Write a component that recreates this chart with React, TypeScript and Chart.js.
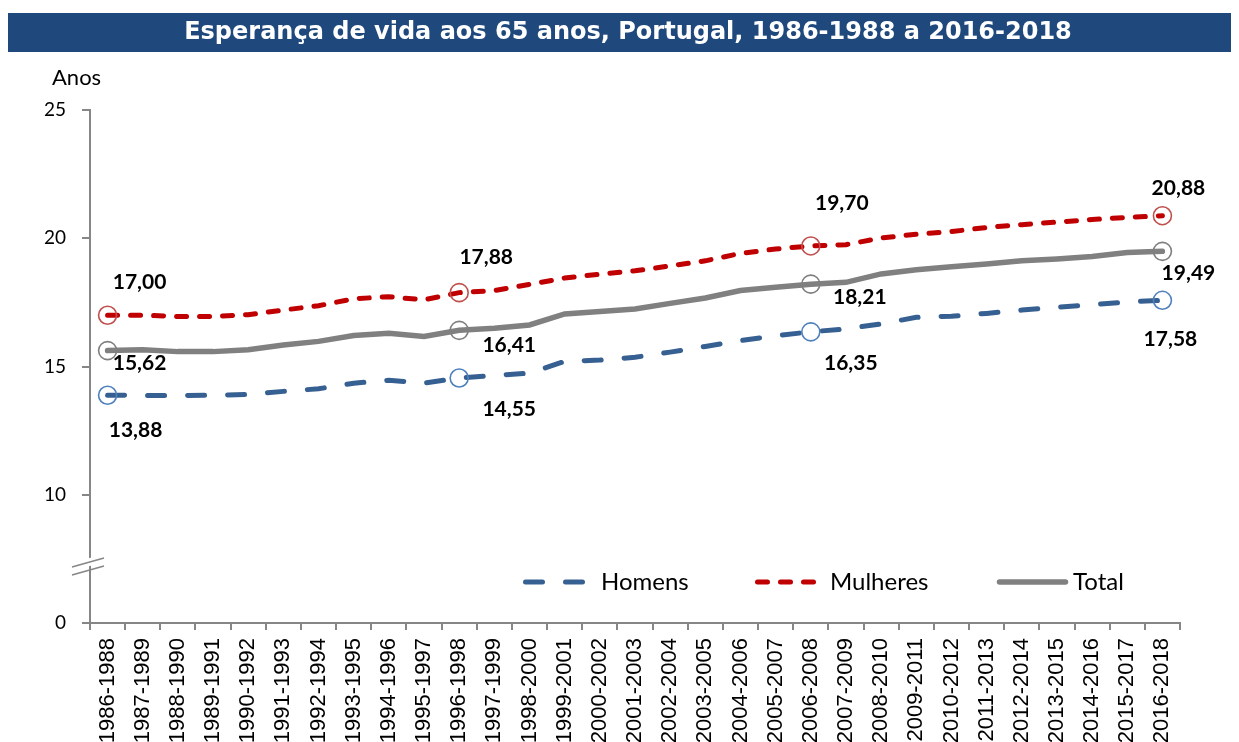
import { useEffect, useRef } from "react";
import { Chart, registerables } from "chart.js";

Chart.register(...registerables);

const titleText = "Esperança de vida aos 65 anos, Portugal, 1986-1988 a 2016-2018";
const yAxisTitle = "Anos";

const categories = [
  "1986-1988", "1987-1989", "1988-1990", "1989-1991", "1990-1992", "1991-1993",
  "1992-1994", "1993-1995", "1994-1996", "1995-1997", "1996-1998", "1997-1999",
  "1998-2000", "1999-2001", "2000-2002", "2001-2003", "2002-2004", "2003-2005",
  "2004-2006", "2005-2007", "2006-2008", "2007-2009", "2008-2010", "2009-2011",
  "2010-2012", "2011-2013", "2012-2014", "2013-2015", "2014-2016", "2015-2017",
  "2016-2018",
];

const homens = [
  13.88, 13.87, 13.87, 13.88, 13.91, 14.03, 14.13, 14.35, 14.46, 14.35,
  14.55, 14.65, 14.74, 15.2, 15.25, 15.36, 15.56, 15.78, 16.01, 16.2,
  16.35, 16.47, 16.66, 16.92, 16.96, 17.07, 17.2, 17.31, 17.41, 17.52,
  17.58,
];

const mulheres = [
  17.0, 17.0, 16.95, 16.95, 17.02, 17.2, 17.37, 17.64, 17.72, 17.6,
  17.88, 17.96, 18.2, 18.45, 18.6, 18.73, 18.92, 19.12, 19.41, 19.58,
  19.7, 19.75, 20.01, 20.16, 20.26, 20.42, 20.53, 20.63, 20.73, 20.81,
  20.88,
];

const total = [
  15.62, 15.65, 15.58, 15.58, 15.65, 15.84, 15.98, 16.21, 16.3, 16.17,
  16.41, 16.49, 16.62, 17.05, 17.14, 17.24, 17.46, 17.67, 17.96, 18.09,
  18.21, 18.28, 18.61, 18.77, 18.89, 19.0, 19.12, 19.19, 19.29, 19.44,
  19.49,
];

// indices of the marked (circled, labelled) points
const markedIndices = [0, 10, 20, 30];

// y axis: the drawn scale runs from 5 to 25; the bottom tick stands for 0 (axis break)
const yMin = 5;
const yMax = 25;
const yStep = 5;
const yBreakValue = 7.22;

// label offsets (px) relative to each marked point
const homensLabelOffsets = [[28, 35], [50, 31], [40, 31], [8, 39]];
const mulheresLabelOffsets = [[32, -33], [27, -35], [31, -43], [16, -27]];
const totalLabelOffsets = [[32, 13], [50, 15], [49, 13], [26, 22]];

const fmt = (v: number) => v.toFixed(2).replace(".", ",");

export default function App() {
  const ref = useRef<HTMLCanvasElement | null>(null);

  useEffect(() => {
    const canvas = ref.current;
    if (!canvas) return;

    const radii = (n: number) => categories.map((_, i) => (markedIndices.includes(i) ? n : 0));

    const overlayPlugin = {
      id: "overlay",
      beforeDraw(chart: any) {
        const ctx = chart.ctx;
        ctx.save();
        ctx.fillStyle = "#ffffff";
        ctx.fillRect(0, 0, chart.width, chart.height);
        // title bar
        ctx.fillStyle = "#1F497D";
        ctx.fillRect(8, 13, 1223, 39);
        ctx.fillStyle = "#ffffff";
        ctx.font = "bold 24px 'DejaVu Sans'";
        ctx.textAlign = "center";
        ctx.textBaseline = "middle";
        ctx.fillText(titleText, 628, 33);
        // y axis title
        ctx.fillStyle = "#000000";
        ctx.font = "22px Lato";
        ctx.textAlign = "left";
        ctx.fillText(yAxisTitle, 52, 78);
        ctx.restore();
      },
      afterDraw(chart: any) {
        const ctx = chart.ctx;
        const xs = chart.scales.x;
        const ys = chart.scales.y;
        ctx.save();
        // axis break marks
        const yb = ys.getPixelForValue(yBreakValue);
        const ax = chart.chartArea.left;
        ctx.fillStyle = "#ffffff";
        ctx.beginPath();
        ctx.moveTo(ax - 18, yb + 5);
        ctx.lineTo(ax + 14, yb - 4);
        ctx.lineTo(ax + 14, yb - 12);
        ctx.lineTo(ax - 18, yb - 3);
        ctx.closePath();
        ctx.fill();
        ctx.strokeStyle = "#868686";
        ctx.lineWidth = 1.5;
        ctx.beginPath();
        ctx.moveTo(ax - 18, yb + 9);
        ctx.lineTo(ax + 14, yb);
        ctx.moveTo(ax - 18, yb + 1);
        ctx.lineTo(ax + 14, yb - 8);
        ctx.stroke();

        // data labels
        ctx.fillStyle = "#000000";
        ctx.font = "bold 21px Lato";
        ctx.textAlign = "center";
        ctx.textBaseline = "middle";
        chart.data.datasets.forEach((ds: any) => {
          markedIndices.forEach((idx, k) => {
            const v = ds.data[idx];
            const px = xs.getPixelForValue(idx);
            const py = ys.getPixelForValue(v);
            const [dx, dy] = ds.labelOffsets[k];
            ctx.fillText(fmt(v), px + dx, py + dy);
          });
        });

        // legend
        const legendY = 582;
        const items = [
          { ds: chart.data.datasets[0], x0: 523, x1: 586, tx: 601 },
          { ds: chart.data.datasets[1], x0: 755, x1: 817, tx: 830 },
          { ds: chart.data.datasets[2], x0: 997, x1: 1068, tx: 1073 },
        ];
        items.forEach(({ ds, x0, x1, tx }) => {
          ctx.strokeStyle = ds.borderColor;
          ctx.lineWidth = ds.borderWidth;
          ctx.lineCap = "round";
          ctx.setLineDash(ds.borderDash || []);
          ctx.beginPath();
          ctx.moveTo(x0 + 2.5, legendY);
          ctx.lineTo(x1 - 2.5, legendY);
          ctx.stroke();
          ctx.setLineDash([]);
          ctx.fillStyle = "#000000";
          ctx.font = "24px Lato";
          ctx.textAlign = "left";
          ctx.fillText(ds.label, tx, legendY);
        });
        ctx.restore();
      },
    };

    const chart = new Chart(canvas, {
      type: "line",
      data: {
        labels: categories,
        datasets: [
          {
            label: "Homens",
            data: homens,
            borderColor: "#376092",
            borderWidth: 5,
            borderDash: [17, 23],
            borderCapStyle: "round",
            pointRadius: radii(9),
            pointBorderColor: "#4F81BD",
            pointBackgroundColor: "rgba(255,255,255,0)",
            pointBorderWidth: 1.6,
            tension: 0,
            labelOffsets: homensLabelOffsets,
          } as any,
          {
            label: "Mulheres",
            data: mulheres,
            borderColor: "#C00000",
            borderWidth: 5,
            borderDash: [10, 13],
            borderCapStyle: "round",
            pointRadius: radii(9),
            pointBorderColor: "#C0504D",
            pointBackgroundColor: "rgba(255,255,255,0)",
            pointBorderWidth: 1.6,
            tension: 0,
            labelOffsets: mulheresLabelOffsets,
          } as any,
          {
            label: "Total",
            data: total,
            borderColor: "#808080",
            borderWidth: 5.5,
            borderCapStyle: "round",
            pointRadius: radii(9),
            pointBorderColor: "#7F7F7F",
            pointBackgroundColor: "rgba(255,255,255,0)",
            pointBorderWidth: 1.6,
            tension: 0,
            labelOffsets: totalLabelOffsets,
          } as any,
        ],
      },
      options: {
        responsive: false,
        animation: false,
        layout: { padding: { top: 110, right: 59, bottom: 0, left: 0 } },
        plugins: {
          legend: { display: false },
          title: { display: false },
          tooltip: { enabled: false },
        },
        scales: {
          x: {
            type: "category",
            offset: true,
            afterFit: (scale: any) => {
              scale.height = 119;
            },
            border: { display: true, color: "#868686", width: 2 },
            grid: {
              offset: true,
              drawOnChartArea: false,
              drawTicks: true,
              tickLength: 7,
              color: "#868686",
              lineWidth: 2,
            },
            ticks: {
              autoSkip: false,
              minRotation: 90,
              maxRotation: 90,
              padding: 8,
              color: "#000000",
              font: { family: "'Liberation Sans'", size: 22 },
            },
          },
          y: {
            type: "linear",
            min: yMin,
            max: yMax,
            afterFit: (scale: any) => {
              scale.width = 90;
            },
            border: { display: true, color: "#868686", width: 2 },
            grid: {
              drawOnChartArea: false,
              drawTicks: true,
              tickLength: 8,
              color: "#868686",
              lineWidth: 2,
            },
            ticks: {
              stepSize: yStep,
              padding: 16,
              color: "#000000",
              font: { family: "Lato", size: 19 },
              callback: (v: any) => (v === yMin ? "0" : String(v)),
            },
          },
        },
      },
      plugins: [overlayPlugin],
    });

    return () => chart.destroy();
  }, []);

  return (
    <div style={{ position: "fixed", left: 0, top: 0, width: 1239, height: 742, background: "#fff" }}>
      <canvas ref={ref} width={1239} height={742} style={{ display: "block" }} />
    </div>
  );
}
